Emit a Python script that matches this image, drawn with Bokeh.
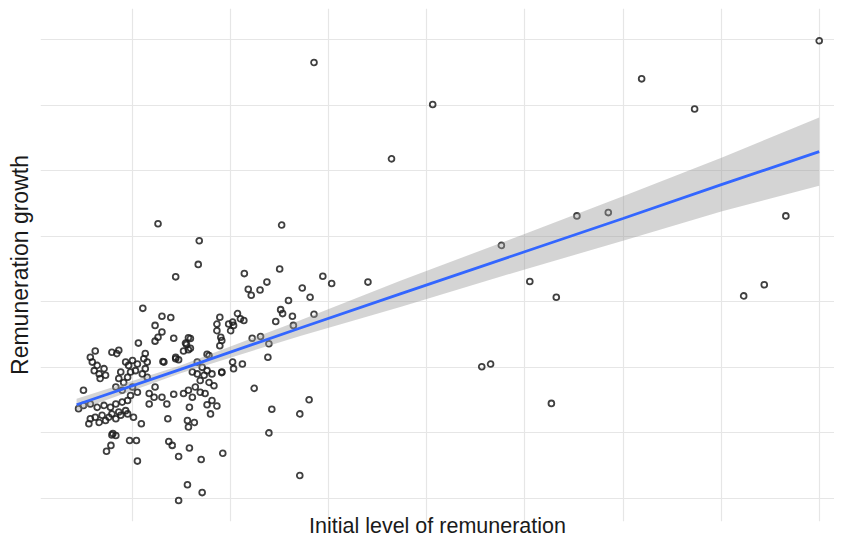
from bokeh.plotting import figure
from bokeh.models import FixedTicker, Range1d
from bokeh.embed import file_html
from bokeh.resources import INLINE

# Scatter data (arbitrary units)
initial = [
    28.5, 40.6, 36.4, 61.9, 67.3, 80.0, 55.3, 58.5, 76.6, 47.6, 50.5, 53.2, 72.3, 74.4, 45.6, 46.5, 52.7, 34.0,
    12.6, 25.2, 16.8, 16.7, 14.4, 21.4, 25.0, 23.7, 21.8, 23.0, 22.1, 27.3, 29.4, 30.3, 28.1, 25.9, 11.05, 13.0,
    13.9, 25.1, 25.3, 24.6, 26.3, 28.5, 26.4,
    20.7, 21.0, 20.2, 21.35, 20.3, 19.8, 20.0,
    18.9, 18.6, 18.6, 19.0, 19.1, 18.9,
    22.2, 23.05, 23.9, 23.8, 17.8, 15.9, 15.9, 19.1, 20.2, 20.3, 21.2, 22.4,
    12.3, 13.0, 12.6, 12.3, 14.2, 10.6, 15.4, 15.2, 14.4, 14.7, 13.1, 11.3, 11.15, 11.5, 6.2, 5.7, 5.9, 6.4,
    6.1, 6.6, 7.1, 7.25, 6.7, 7.9, 8.4, 8.6, 9.3, 9.6, 10.0, 10.5, 10.3, 9.8, 9.5, 8.8, 8.6, 9.1, 11.3, 11.0,
    11.5, 5.0, 13.2, 15.7, 15.2, 16.1, 12.3, 11.7, 12.2, 8.3, 8.95, 10.0, 10.5, 9.8,
    4.5, 5.0, 5.7, 6.4, 7.1, 7.75, 8.3, 8.95, 9.5, 9.3, 8.6, 5.55, 5.7, 6.2, 6.9, 7.25, 7.6, 7.9, 8.3, 8.8,
    6.6, 9.5, 10.1, 10.9, 11.7, 13.6, 7.9, 8.3, 8.0, 9.7, 10.4, 7.8, 7.35, 10.5, 13.7, 14.05, 14.7, 15.8,
    15.6, 15.7, 15.8, 15.6, 14.7,
    24.2, 28.0, 27.05, 23.9, 27.05, 19.2, 17.0, 17.1, 17.95, 17.6, 18.1, 18.6, 16.3,
    15.7, 15.5, 15.7, 14.4, 17.6, 16.6, 17.1, 17.6, 18.1, 17.3, 16.6, 16.1, 16.9, 17.8, 18.3, 16.4, 16.9, 17.4,
    19.1, 13.0, 13.5, 14.2,
]
growth = [
    66.5, 60.1, 51.8, 64.0, 59.4, 69.8, 43.1, 43.6, 43.1, 38.6, 33.1, 30.7, 30.9, 32.6, 20.1, 20.5, 14.5, 33.0,
    41.9, 41.7, 39.3, 35.7, 33.8, 34.3, 35.0, 33.0, 31.9, 31.8, 31.0, 32.1, 33.9, 32.8, 30.7, 30.2, 29.0, 27.8,
    27.6, 28.8, 28.2, 27.0, 27.8, 28.1, 26.4,
    28.2, 27.4, 26.9, 27.15, 26.4, 26.6, 25.6,
    27.65, 26.6, 25.6, 24.6, 24.1, 23.3,
    24.45, 24.7, 23.6, 21.55, 21.8, 24.4, 22.9, 19.3, 20.8, 19.8, 20.5, 16.8,
    26.4, 25.4, 24.6, 24.0, 24.45, 23.7, 23.7, 22.5, 21.55, 21.15, 20.9, 22.1, 21.3, 20.8, 22.5, 21.55, 20.8, 20.3,
    19.5, 19.0, 19.8, 18.8, 18.3, 22.3, 22.1, 22.6, 20.8, 20.3, 21.05, 20.5, 19.5, 19.3, 18.5, 19.3, 18.3, 17.7, 19.8, 19.0,
    18.5, 16.5, 20.8, 16.5, 16.0, 15.45, 17.0, 16.0, 15.45, 17.0, 16.5, 17.0, 16.2, 15.7,
    13.7, 14.2, 14.4, 13.9, 14.2, 13.9, 14.4, 14.7, 14.95, 13.4, 13.2, 11.4, 12.15, 12.4, 12.7, 11.9, 12.4, 12.9, 12.15, 12.7,
    11.6, 12.9, 12.4, 11.4, 14.4, 12.15, 9.7, 9.6, 9.9, 8.85, 8.85, 8.1, 7.2, 5.7, 8.7, 8.1, 6.4, 7.7,
    11.9, 10.9, 13.9, 2.1, -0.3,
    13.6, 15.05, 12.9, 10.0, 3.5, 6.9, 5.95, 0.9, 12.9, 14.3, 14.95, 14.1, 11.6,
    24.5, 23.5, 22.7, 21.3, 22.0, 20.8, 20.0, 19.5, 19.0, 18.8, 19.0, 19.3, 18.0, 17.7, 17.2, 17.0, 16.2, 16.0,
    19.2, 15.45, 14.4, 15.9,
]

# Linear fit and its confidence band
fit_x = [4.3, 14.9, 27.1, 37.3, 49.9, 60.0, 70.1, 80.0]
fit_y = [14.3, 19.7, 26.0, 31.2, 37.6, 42.7, 47.9, 52.9]
ci_low = [13.4, 19.1, 24.8, 29.2, 34.9, 39.3, 43.8, 47.7]
ci_high = [15.2, 20.3, 27.2, 33.2, 40.3, 46.1, 52.0, 58.1]

grid_x = [10, 20, 30, 40, 50, 60, 70, 80]
grid_y = [0, 10, 20, 30, 40, 50, 60, 70]

x_title = "Initial level of remuneration"
y_title = "Remuneration growth"

p = figure(width=834, height=540, output_backend="svg", toolbar_location=None,
           x_range=Range1d(0.62, 81.56), y_range=Range1d(-3.51, 74.73),
           min_border_left=40, min_border_right=0, min_border_top=8, min_border_bottom=19)
p.outline_line_color = None
p.background_fill_color = "white"
p.border_fill_color = "white"

for ax in (p.xaxis[0], p.yaxis[0]):
    ax.ticker = FixedTicker(ticks=[])
    ax.axis_line_color = None
    ax.major_tick_line_color = None
    ax.minor_tick_line_color = None
    ax.major_tick_out = 0
    ax.major_tick_in = 0
    ax.minor_tick_out = 0
    ax.minor_tick_in = 0
    ax.major_label_standoff = 0
    ax.axis_label_text_font = "Liberation Sans"
    ax.axis_label_text_font_style = "normal"
    ax.axis_label_text_color = "#1a1a1a"

p.yaxis.axis_label = y_title
p.yaxis.axis_label_standoff = 8
p.yaxis.axis_label_text_font_size = "23px"

p.xaxis.axis_label = x_title
p.xaxis.axis_label_standoff = -8
p.xaxis.axis_label_text_font_size = "21.5px"

p.xgrid.ticker = FixedTicker(ticks=grid_x)
p.ygrid.ticker = FixedTicker(ticks=grid_y)
p.grid.grid_line_color = "#e6e6e6"
p.grid.grid_line_width = 1.2

p.scatter(initial, growth, marker="circle", size=5.8, fill_color=None,
          line_color="#1f1f1f", line_alpha=0.85, line_width=1.8)
p.varea(x=fit_x, y1=ci_low, y2=ci_high, fill_color="#999999", fill_alpha=0.42)
p.line(fit_x, fit_y, line_color="#3366FF", line_width=2.8)

open("out.html", "w").write(file_html(p, INLINE))
